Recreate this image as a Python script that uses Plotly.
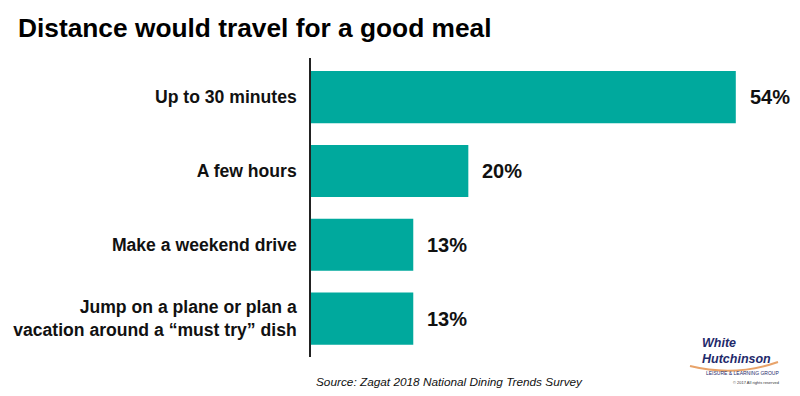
import plotly.graph_objects as go

categories = ["Up to 30 minutes", "A few hours", "Make a weekend drive",
              "Jump on a plane or plan a<br>vacation around a \u201cmust try\u201d dish"]
values = [54, 20, 13, 13]
value_labels = ["54%", "20%", "13%", "13%"]

TEAL = "#00A99D"
NAVY = "#1F2A6B"
FONT = "Liberation Sans, Arial, Helvetica, sans-serif"

# figure is placed at (8, 8) in the page (body margin)
W, H = 792, 388
L, T, PW, PH = 303, 50, 472, 299


def px(X):  # page x -> paper x
    return (X - 8 - L) / PW


def py(Y):  # page y -> paper y
    return 1 - (Y - 8 - T) / PH


pos = list(range(len(categories)))

fig = go.Figure()
fig.add_trace(go.Bar(
    x=values, y=pos, orientation="h",
    marker=dict(color=TEAL, line=dict(width=0)),
    width=0.705, hoverinfo="skip",
))

for v, p, lab in zip(values, pos, value_labels):
    fig.add_annotation(x=v, y=p, xref="x", yref="y", text="<b>%s</b>" % lab,
                       showarrow=False, xanchor="left", yanchor="middle",
                       xshift=12, font=dict(family=FONT, size=20, color="#111"))

fig.update_layout(
    width=W, height=H,
    margin=dict(l=L, r=W - L - PW, t=T, b=H - T - PH, autoexpand=False),
    paper_bgcolor="white", plot_bgcolor="white",
    showlegend=False,
    xaxis=dict(range=[0, 60], visible=False, showgrid=False, zeroline=False),
    yaxis=dict(range=[3.52, -0.53], tickvals=pos,
               ticktext=["<b>%s</b>" % c for c in categories],
               showline=True, linecolor="#222", linewidth=1.5,
               showgrid=False, zeroline=False, ticks="", ticklen=0,
               automargin=False,
               tickfont=dict(family=FONT, size=17.6, color="#111"),
               ticklabelstandoff=9),
)

# Title
fig.add_annotation(text="<b>Distance would travel for a good meal</b>",
                   xref="paper", yref="paper", x=px(16), y=py(28),
                   xanchor="left", yanchor="middle", showarrow=False,
                   font=dict(family=FONT, size=26.3, color="#000"))

# Source
fig.add_annotation(text="<i>Source: Zagat 2018 National Dining Trends Survey</i>",
                   xref="paper", yref="paper", x=px(449), y=py(382),
                   xanchor="center", yanchor="middle", showarrow=False,
                   font=dict(family=FONT, size=11.8, color="#111"))

# Logo (approximation)
LOGO_FONT = "Liberation Sans Narrow, Liberation Sans, Arial, sans-serif"
fig.add_annotation(text="<b><i>White</i></b><br><b><i>Hutchinson</i></b>",
                   xref="paper", yref="paper", align="left",
                   x=px(700), y=py(351), xanchor="left", yanchor="middle",
                   showarrow=False, font=dict(family=LOGO_FONT, size=12.5, color=NAVY))
fig.add_shape(type="path", xref="paper", yref="paper",
              path="M %f,%f Q %f,%f %f,%f" % (px(690), py(366), px(735), py(377), px(778), py(362)),
              line=dict(color="#E8A36A", width=2))
fig.add_annotation(text="LEISURE & LEARNING GROUP", xref="paper", yref="paper",
                   x=px(742), y=py(373), xanchor="center", yanchor="middle",
                   showarrow=False, font=dict(family=FONT, size=5, color=NAVY))
fig.add_annotation(text="\u00a9 2017 All rights reserved", xref="paper", yref="paper",
                   x=px(756), y=py(382), xanchor="center", yanchor="middle",
                   showarrow=False, font=dict(family=FONT, size=4, color="#333"))

fig.write_html("out.html")
